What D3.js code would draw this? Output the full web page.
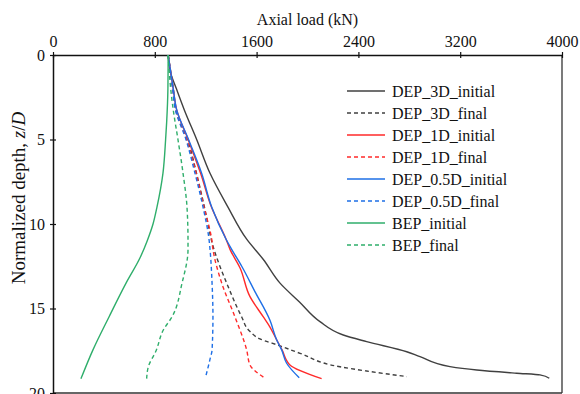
<!DOCTYPE html>
<html>
<head>
<meta charset="utf-8">
<script src="https://cdnjs.cloudflare.com/ajax/libs/d3/7.8.5/d3.min.js"></script>
<style>
  body { margin: 0; background: #fff; }
  svg { display: block; font-family: "Liberation Serif", "Times New Roman", serif; }
</style>
</head>
<body>
<div id="chart"></div>
<script>
// data: [normalized depth z/D, axial load kN]
const dep3dInitial = [[0,905],[1,922],[2,970],[3.25,1032],[5,1129],[7,1234],[9,1375],[10.9,1522],[12.1,1653],[13.5,1784],[14.6,1935],[15.78,2098],[16.57,2281],[16.96,2465],[17.56,2780],[17.85,2884],[18.44,3120],[18.64,3330],[18.83,3644],[18.93,3827],[19.13,3900]];
const dep3dFinal = [[0,905],[2,945],[3.25,968],[5,1058],[7,1128],[9,1190],[11.5,1265],[13.5,1365],[15.5,1483],[16.3,1540],[16.8,1627],[17.2,1780],[17.65,1941],[18.45,2255],[18.7,2465],[19.03,2780]];
const dep1dInitial = [[0,905],[2,945],[3.25,972],[5,1062],[7,1160],[9,1245],[10.9,1360],[11.5,1391],[12.6,1470],[14.3,1548],[15.5,1653],[16.1,1705],[16.86,1758],[17.45,1800],[18.34,1862],[19.15,2111]];
const dep1dFinal = [[0,905],[2,940],[3.25,965],[5,1050],[7,1125],[9,1187],[10.9,1247],[11.5,1257],[13.5,1326],[15.5,1430],[17.45,1522],[18.34,1548],[19.1,1661]];
const dep05dInitial = [[0,905],[2,945],[3.25,972],[5,1065],[7,1168],[9,1247],[10.9,1360],[11.5,1404],[12.5,1483],[14,1587],[15.7,1705],[16.86,1758],[17.45,1797],[18.24,1836],[19.1,1935]];
const dep05dFinal = [[0,905],[2,940],[3.25,962],[5,1045],[7,1116],[9,1179],[10.9,1226],[11.5,1234],[13.5,1250],[15.5,1257],[17.45,1250],[18,1234],[19.03,1200]];
const bepInitial = [[0,905],[2,903],[4,893],[5,885],[7,864],[9,817],[10,786],[11,740],[12,684],[13.5,574],[15.5,440],[17.45,314],[19.15,220]];
const bepFinal = [[0,905],[2,925],[3.25,945],[5,982],[7,1022],[9,1053],[11,1061],[11.5,1061],[13.5,1014],[15.5,935],[16.27,867],[17.5,810],[18.45,749],[19.15,736]];

const seriesNames = ["DEP_3D_initial","DEP_3D_final","DEP_1D_initial","DEP_1D_final","DEP_0.5D_initial","DEP_0.5D_final","BEP_initial","BEP_final"];
const seriesData = [dep3dInitial, dep3dFinal, dep1dInitial, dep1dFinal, dep05dInitial, dep05dFinal, bepInitial, bepFinal];

const loadTicks = [0, 800, 1600, 2400, 3200, 4000];
const depthTicks = [0, 5, 10, 15, 20];

// styles
const colors = ["#404040","#404040","#ff2a2a","#ff2a2a","#1e6fe6","#1e6fe6","#2fae6b","#2fae6b"];
const dashed = [false,true,false,true,false,true,false,true];

const W = 580, H = 394;
const m = { left: 53, right: 562, top: 55, bottom: 393 };

const svg = d3.select("#chart").append("svg")
  .attr("width", W).attr("height", H);

const x = d3.scaleLinear().domain([0, 4000]).range([m.left, m.right]);
const y = d3.scaleLinear().domain([0, 20]).range([m.top, m.bottom]);

// frame (right + bottom)
svg.append("line")
  .attr("x1", m.right).attr("x2", m.right).attr("y1", m.top).attr("y2", m.bottom)
  .attr("stroke", "#333").attr("stroke-width", 1.3);
svg.append("line")
  .attr("x1", m.left).attr("x2", m.right).attr("y1", m.bottom).attr("y2", m.bottom)
  .attr("stroke", "#333").attr("stroke-width", 1.3);

// top axis
const gx = svg.append("g")
  .attr("transform", `translate(0,${m.top})`)
  .call(d3.axisTop(x).tickValues(loadTicks).tickSize(3).tickPadding(5).tickSizeOuter(0).tickFormat(d3.format("d")));
gx.selectAll(".tick line").attr("y1", -3).attr("y2", 3);

// left axis
const gy = svg.append("g")
  .attr("transform", `translate(${m.left},0)`)
  .call(d3.axisLeft(y).tickValues(depthTicks).tickSize(3).tickPadding(5).tickSizeOuter(0));
gy.selectAll(".tick line").attr("x1", -3).attr("x2", 3);

[gx, gy].forEach(g => {
  g.select(".domain").attr("stroke", "#111").attr("stroke-width", 1.5);
  g.selectAll(".tick line").attr("stroke", "#111").attr("stroke-width", 1.2);
  g.selectAll(".tick text")
    .attr("font-family", "Liberation Serif, Times New Roman, serif")
    .attr("font-size", 16).attr("fill", "#111");
});

// axis titles
svg.append("text")
  .attr("x", (m.left + m.right) / 2).attr("y", 25)
  .attr("text-anchor", "middle").attr("font-size", 16).attr("fill", "#111")
  .text("Axial load (kN)");

const yt = svg.append("text")
  .attr("transform", "translate(25,198) rotate(-90)")
  .attr("text-anchor", "middle").attr("font-size", 19).attr("fill", "#111");
yt.append("tspan").text("Normalized depth, ");
yt.append("tspan").attr("font-style", "italic").text("z");
yt.append("tspan").text("/");
yt.append("tspan").attr("font-style", "italic").text("D");

// curves
const line = d3.line()
  .x(d => x(d[1]))
  .y(d => y(d[0]))
  .curve(d3.curveMonotoneY);

seriesData.forEach((s, i) => {
  svg.append("path")
    .datum(s)
    .attr("fill", "none")
    .attr("stroke", colors[i])
    .attr("stroke-width", 1.4)
    .attr("stroke-dasharray", dashed[i] ? "4,3" : null)
    .attr("d", line);
});

// legend
const legend = svg.append("g").attr("transform", "translate(347,91)");
seriesNames.forEach((name, i) => {
  const row = legend.append("g").attr("transform", `translate(0,${i * 22})`);
  row.append("line")
    .attr("x1", 0).attr("x2", 38).attr("y1", 0).attr("y2", 0)
    .attr("stroke", colors[i]).attr("stroke-width", 1.4)
    .attr("stroke-dasharray", dashed[i] ? "4,3" : null);
  row.append("text")
    .attr("x", 45).attr("y", 5.5)
    .attr("font-size", 16).attr("fill", "#111")
    .text(name);
});
</script>
</body>
</html>
